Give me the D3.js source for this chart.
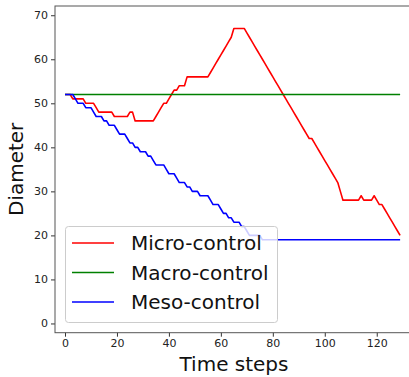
<!DOCTYPE html>
<html>
<head>
<meta charset="utf-8">
<script src="https://cdn.jsdelivr.net/npm/d3@7"></script>
<style>
	body { margin: 0; background: #fff; }
	text { font-family: "DejaVu Sans", sans-serif; }
</style>
</head>
<body>
<div class="chart"></div>
<script>

	// series data, one value per time step (0..129)
	var steps = d3.range(0, 130);

	var micro = [52,52,52,51,51,51,51,51,50,50,
		50,50,49,48,48,48,48,48,48,47,
		47,47,47,47,47,48,48,46,46,46,
		46,46,46,46,46,47,48,49,50,50,
		51,52,53,53,54,54,54,56,56,56,
		56,56,56,56,56,56,57,58,59,60,
		61,62,63,64,65,67,67,67,67,67,
		66,65,64,63,62,61,60,59,58,57,
		56,55,54,53,52,51,50,49,48,47,
		46,45,44,43,42,42,41,40,39,38,
		37,36,35,34,33,32,30,28,28,28,
		28,28,28,28,29,28,28,28,28,29,
		28,27,27,26,25,24,23,22,21,20];

	var macro = [52,52,52,52,52,52,52,52,52,52,
		52,52,52,52,52,52,52,52,52,52,
		52,52,52,52,52,52,52,52,52,52,
		52,52,52,52,52,52,52,52,52,52,
		52,52,52,52,52,52,52,52,52,52,
		52,52,52,52,52,52,52,52,52,52,
		52,52,52,52,52,52,52,52,52,52,
		52,52,52,52,52,52,52,52,52,52,
		52,52,52,52,52,52,52,52,52,52,
		52,52,52,52,52,52,52,52,52,52,
		52,52,52,52,52,52,52,52,52,52,
		52,52,52,52,52,52,52,52,52,52,
		52,52,52,52,52,52,52,52,52,52];

	var meso = [52,52,52,52,51,50,50,50,49,49,
		49,48,47,47,47,46,46,45,45,45,
		44,43,43,43,42,41,41,40,40,39,
		39,39,38,38,37,36,36,36,36,35,
		34,34,34,33,32,32,32,31,31,30,
		30,30,29,29,29,29,28,27,27,27,
		26,25,25,24,24,23,23,23,22,22,
		21,20,20,20,20,20,19,19,19,19,
		19,19,19,19,19,19,19,19,19,19,
		19,19,19,19,19,19,19,19,19,19,
		19,19,19,19,19,19,19,19,19,19,
		19,19,19,19,19,19,19,19,19,19,
		19,19,19,19,19,19,19,19,19,19];

	var seriesNames = ["Micro-control", "Macro-control", "Meso-control"],
		seriesColors = ["#ff0000", "#008000", "#0000ff"],
		seriesValues = [micro, macro, meso];

	var xTicks = [0, 20, 40, 60, 80, 100, 120],
		yTicks = [0, 10, 20, 30, 40, 50, 60, 70];

	// declare sizes
	var width = 409,
		height = 377,
		plotLeft = 55,
		plotTop = 6,
		plotBottom = 332.7,
		plotRight = 417;

	var svg = d3.select(".chart").append("svg")
		.attr("width", width)
		.attr("height", height);

	var x = d3.scaleLinear().domain([-3.85, 135.5]).range([plotLeft, plotRight]);
	var y = d3.scaleLinear().domain([-2.1, 72.1]).range([plotBottom, plotTop]);

	// axes
	var xAxis = svg.append("g")
		.attr("transform", "translate(0," + plotBottom + ")")
		.call(d3.axisBottom(x).tickValues(xTicks).tickSize(4).tickPadding(3).tickSizeOuter(0));

	var yAxis = svg.append("g")
		.attr("transform", "translate(" + plotLeft + ",0)")
		.call(d3.axisLeft(y).tickValues(yTicks).tickSize(4).tickPadding(3).tickSizeOuter(0));

	[xAxis, yAxis].forEach(function(a) {
		a.select(".domain").remove();
		a.selectAll(".tick line").attr("stroke", "#333");
		a.selectAll(".tick text")
			.attr("fill", "#222")
			.style("font-size", "11px")
			.style("font-family", "DejaVu Sans");
	});

	// spines
	svg.append("rect")
		.attr("x", plotLeft)
		.attr("y", plotTop)
		.attr("width", plotRight - plotLeft)
		.attr("height", plotBottom - plotTop)
		.attr("fill", "none")
		.attr("stroke", "#555")
		.attr("stroke-width", 1);

	// lines
	var line = d3.line()
		.x(function(d) { return x(d[0]); })
		.y(function(d) { return y(d[1]); });

	seriesValues.forEach(function(vals, i) {
		svg.append("path")
			.datum(steps.map(function(t) { return [t, vals[t]]; }))
			.attr("d", line)
			.attr("fill", "none")
			.attr("stroke", seriesColors[i])
			.attr("stroke-width", 1.6)
			.attr("stroke-linejoin", "round");
	});

	// axis titles
	svg.append("text")
		.attr("x", 234)
		.attr("y", 371)
		.attr("text-anchor", "middle")
		.style("font-size", "20px")
		.attr("fill", "#111")
		.text("Time steps");

	svg.append("text")
		.attr("transform", "translate(23," + ((plotTop + plotBottom) / 2) + ") rotate(-90)")
		.attr("text-anchor", "middle")
		.style("font-size", "20px")
		.attr("fill", "#111")
		.text("Diameter");

	// legend
	var legend = svg.append("g");

	legend.append("rect")
		.attr("x", 65.5)
		.attr("y", 226.5)
		.attr("width", 212)
		.attr("height", 96)
		.attr("rx", 3)
		.attr("fill", "#fff")
		.attr("fill-opacity", 0.8)
		.attr("stroke", "#ccc");

	seriesNames.forEach(function(name, i) {
		var cy = 243 + i * 29.5;
		legend.append("line")
			.attr("x1", 72)
			.attr("x2", 114)
			.attr("y1", cy)
			.attr("y2", cy)
			.attr("stroke", seriesColors[i])
			.attr("stroke-width", 1.6);
		legend.append("text")
			.attr("x", 131)
			.attr("y", cy + 7)
			.style("font-size", "20px")
			.attr("fill", "#111")
			.text(name);
	});

</script>
</body>
</html>
